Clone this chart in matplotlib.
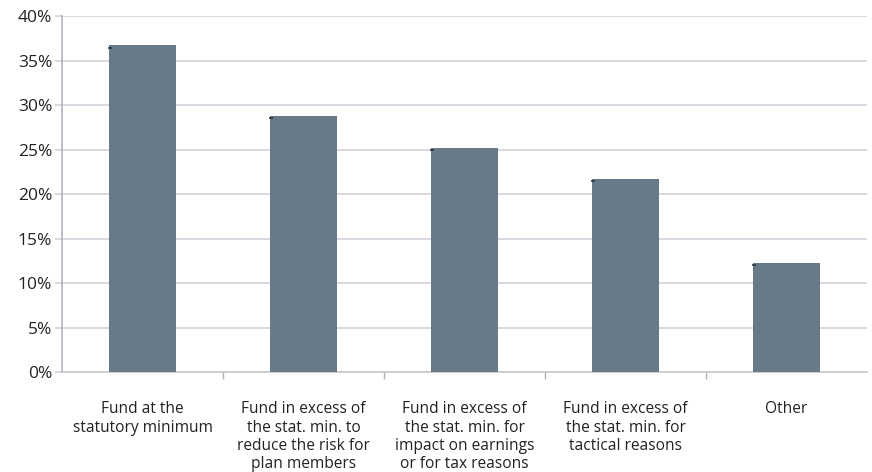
import matplotlib
matplotlib.use("Agg")
import matplotlib.pyplot as plt
import numpy as np
from matplotlib.ticker import FixedLocator

plt.rcParams['font.family'] = ['Open Sans', 'DejaVu Sans']

categories = [
    "Fund at the\nstatutory minimum",
    "Fund in excess of\nthe stat. min. to\nreduce the risk for\nplan members",
    "Fund in excess of\nthe stat. min. for\nimpact on earnings\nor for tax reasons",
    "Fund in excess of\nthe stat. min. for\ntactical reasons",
    "Other",
]
shares = [36.7, 28.8, 25.2, 21.7, 12.3]
y_ticks = [0, 5, 10, 15, 20, 25, 30, 35, 40]

bar_color = "#687987"
grid_color = "#d3d0da"
axis_color = "#b9b0c4"
bar_width = 0.41

fig = plt.figure(figsize=(8.72, 4.72), dpi=100)
ax = fig.add_axes([62 / 872, 1 - 372.3 / 472, 805 / 872, (372.3 - 16) / 472])

x = np.arange(len(categories))
ax.bar(x, shares, width=bar_width, color=bar_color, zorder=3)
# small dark stubs at the top-left corner of each bar
ax.plot(x - bar_width / 2 + 0.004, np.array(shares) - 0.25, linestyle="none", marker="_",
        markersize=3, markeredgewidth=1.1, color="#2a2f36", zorder=4)

ax.set_xlim(-0.5, len(categories) - 0.5)
ax.set_ylim(0, 40)
ax.set_yticks(y_ticks)
ax.set_yticklabels([f"{v}%" for v in y_ticks], fontsize=12.5, color="#222222")
ax.yaxis.grid(True, color=grid_color, linewidth=1.2, zorder=0)
ax.tick_params(axis="y", length=5, color=grid_color, width=1.2, pad=2)

ax.set_xticks(x)
ax.set_xticklabels(categories, fontsize=11.2, color="#222222", linespacing=1.18, va="top")
ax.tick_params(axis="x", which="major", length=0, pad=21)
ax.xaxis.set_minor_locator(FixedLocator(np.arange(0.5, len(categories) - 0.5, 1.0)))
ax.tick_params(axis="x", which="minor", length=5, color="#b0b0b0", width=1)

for side in ["top", "right"]:
    ax.spines[side].set_visible(False)
ax.spines["left"].set_color(axis_color)
ax.spines["left"].set_linewidth(1.2)
ax.spines["bottom"].set_color("#c8c8c8")
ax.spines["bottom"].set_linewidth(1.2)

fig.savefig("out.png", dpi=100)
